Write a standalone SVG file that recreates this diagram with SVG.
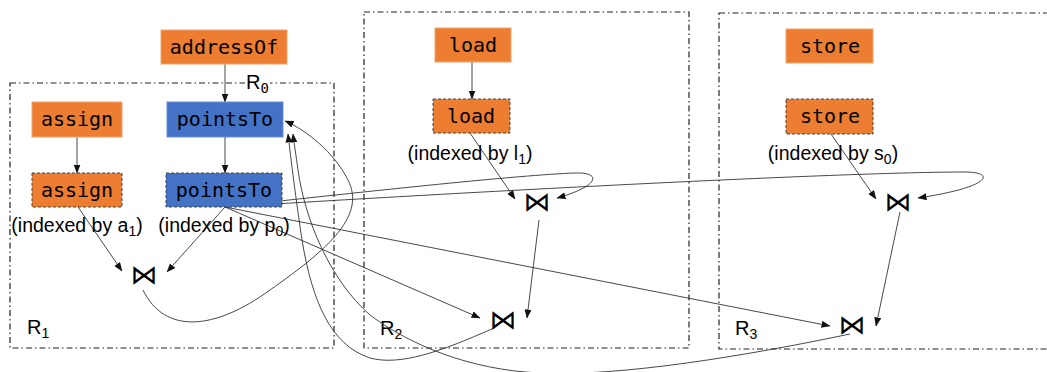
<svg xmlns="http://www.w3.org/2000/svg" width="1047" height="372" viewBox="0 0 1047 372">
  <defs>
    <marker id="arrow" markerUnits="userSpaceOnUse" markerWidth="9" markerHeight="7" refX="8.5" refY="3.5" orient="auto">
      <path d="M0,0 L9,3.5 L0,7 z" fill="#111"/>
    </marker>
    <style>
      .region { fill: none; stroke: #222; stroke-width: 1.2; stroke-dasharray: 6 3 1.5 3; }
      .orange { fill: #ED7D31; stroke: #F4A470; stroke-width: 1; }
      .blue { fill: #4472C4; stroke: #6A8ED0; stroke-width: 1; }
      .indexed { stroke: #444; stroke-width: 1; stroke-dasharray: 3 2; }
      .mono { font-family: "DejaVu Sans Mono", "Liberation Mono", monospace; font-size: 20px; fill: #000; text-anchor: middle; }
      .lbl { font-family: "Liberation Sans", "Noto Sans", sans-serif; font-size: 19.5px; fill: #000; text-anchor: middle; }
      .reg { font-family: "Liberation Sans", "Noto Sans", sans-serif; font-size: 20px; fill: #000; }
      .sub { font-size: 14px; }
      .join { font-family: "DejaVu Serif", "DejaVu Sans", serif; font-size: 27px; fill: #000; text-anchor: middle; }
      .edge { fill: none; stroke: #333; stroke-width: 0.9; marker-end: url(#arrow); }
    </style>
  </defs>
  <rect width="1047" height="372" fill="#fff"/>

  <!-- rule regions -->
  <g id="regions">
    <rect id="R1-box" class="region" x="10" y="83" width="324" height="265"/>
    <rect id="R2-box" class="region" x="364" y="12" width="325" height="336"/>
    <rect id="R3-box" class="region" x="719" y="13" width="340" height="336"/>
    <rect x="245" y="75" width="25" height="19" fill="#fff"/>
    <text class="reg" x="246" y="89">R<tspan class="sub" dy="4" font-family="DejaVu Sans Mono, monospace">0</tspan></text>
    <text class="reg" x="27" y="334">R<tspan class="sub" dy="4">1</tspan></text>
    <text class="reg" x="380" y="335">R<tspan class="sub" dy="4">2</tspan></text>
    <text class="reg" x="735" y="335">R<tspan class="sub" dy="4">3</tspan></text>
  </g>

  <!-- connectors -->
  <g id="connectors">
    <path class="edge" d="M225,64 L225,102"/>
    <path class="edge" d="M77,137 L77,173"/>
    <path class="edge" d="M225,137 L225,173"/>
    <path class="edge" d="M78,207 L122,271"/>
    <path class="edge" d="M225,207 L167,272"/>
    <path class="edge" d="M143,290 C165,335 215,330 270,290 C330,248 366,215 348,180 C334,152 306,130 285,121"/>
    <path class="edge" d="M472,62 L472,99"/>
    <path class="edge" d="M470,133 L515,199"/>
    <path class="edge" d="M225,207 C380,190 520,175 575,173 C602,172 600,186 557,198"/>
    <path class="edge" d="M225,207 C500,190 850,172 965,172 C996,172 992,187 918,198"/>
    <path class="edge" d="M539,220 L527,318"/>
    <path class="edge" d="M225,207 L480,318"/>
    <path class="edge" d="M831,134 L876,199"/>
    <path class="edge" d="M900,212 L876,326"/>
    <path class="edge" d="M225,207 L830,326"/>
    <path class="edge" d="M494,328 C440,352 400,366 370,358 C330,345 312,300 302,240 C296,200 291,160 288,134"/>
    <path class="edge" d="M850,334 C750,355 620,377 540,373 C470,370 410,345 370,315 C330,280 305,220 298,170 C296,155 294,143 293,134"/>
  </g>

  <!-- R1 nodes -->
  <g id="addressOf">
    <rect class="orange" x="161" y="30" width="126" height="34"/>
    <text class="mono" x="224" y="54">addressOf</text>
  </g>
  <g id="assign">
    <rect class="orange" x="32" y="102" width="90" height="35"/>
    <text class="mono" x="77" y="126">assign</text>
  </g>
  <g id="pointsTo">
    <rect class="blue" x="167" y="102" width="116" height="35"/>
    <text class="mono" x="225" y="126">pointsTo</text>
  </g>
  <g id="assign-indexed">
    <rect class="orange indexed" x="32" y="173" width="90" height="34"/>
    <text class="mono" x="77" y="197">assign</text>
    <text class="lbl" x="77" y="232">(indexed by a<tspan class="sub" dy="4">1</tspan><tspan dy="-4">)</tspan></text>
  </g>
  <g id="pointsTo-indexed">
    <rect class="blue indexed" x="166" y="173" width="116" height="34"/>
    <text class="mono" x="224" y="197">pointsTo</text>
    <text class="lbl" x="224" y="232">(indexed by p<tspan class="sub" dy="4">0</tspan><tspan dy="-4">)</tspan></text>
  </g>
  <g id="join-R1">
    <text class="join" x="144" y="284">⋈</text>
  </g>

  <!-- R2 nodes -->
  <g id="load">
    <rect class="orange" x="435" y="28" width="76" height="34"/>
    <text class="mono" x="473" y="52">load</text>
  </g>
  <g id="load-indexed">
    <rect class="orange indexed" x="433" y="99" width="77" height="34"/>
    <text class="mono" x="471" y="123">load</text>
    <text class="lbl" x="470" y="160">(indexed by l<tspan class="sub" dy="4">1</tspan><tspan dy="-4">)</tspan></text>
  </g>
  <g id="join-R2a">
    <text class="join" x="537" y="211">⋈</text>
  </g>
  <g id="join-R2b">
    <text class="join" x="503" y="329">⋈</text>
  </g>

  <!-- R3 nodes -->
  <g id="store">
    <rect class="orange" x="786" y="29" width="87" height="34"/>
    <text class="mono" x="830" y="53">store</text>
  </g>
  <g id="store-indexed">
    <rect class="orange indexed" x="786" y="99" width="87" height="35"/>
    <text class="mono" x="830" y="123">store</text>
    <text class="lbl" x="833" y="160">(indexed by s<tspan class="sub" dy="4">0</tspan><tspan dy="-4">)</tspan></text>
  </g>
  <g id="join-R3a">
    <text class="join" x="898" y="211">⋈</text>
  </g>
  <g id="join-R3b">
    <text class="join" x="852" y="334">⋈</text>
  </g>
</svg>
